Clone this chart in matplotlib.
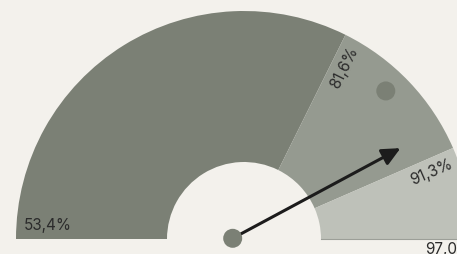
import numpy as np
import matplotlib
matplotlib.use("Agg")
import matplotlib.pyplot as plt
from matplotlib.patches import Wedge, Circle

# Données de la jauge
gauge_min = 53.4
gauge_max = 97.0
thresholds = [53.4, 81.6, 91.3, 97.0]
band_colors = ["#7b8075", "#959a90", "#bec1b9"]
needle_value = 89.7
marker_value = 85.8
labels = ["53,4%", "81,6%", "91,3%", "97,0%"]

# Géométrie (en pixels)
W, H = 457, 255
cx, cy = 244, 15
r_out, r_in = 228, 77
bg = "#f3f1ec"
txt_color = "#2b2b2b"


def angle_of(v):
    """Valeur -> angle en degrés (180 à gauche, 0 à droite)."""
    return 180 - (v - gauge_min) / (gauge_max - gauge_min) * 180


def polar(v, r):
    a = np.radians(angle_of(v))
    return cx + r * np.cos(a), cy + r * np.sin(a)


fig = plt.figure(figsize=(W / 100, H / 100), dpi=100, facecolor=bg)
ax = fig.add_axes([0, 0, 1, 1])
ax.set_xlim(0, W)
ax.set_ylim(0, H)
ax.set_facecolor(bg)
ax.axis("off")

############################### Secteurs
for i in range(3):
    a1 = angle_of(thresholds[i + 1])
    a2 = angle_of(thresholds[i])
    ax.add_patch(Wedge((cx, cy), r_out, a1, a2, width=r_out - r_in,
                       facecolor=band_colors[i], edgecolor="none"))

# fine ligne sous le dernier secteur
ax.plot([cx + r_in, cx + r_out], [cy, cy], color="#9c9f98", lw=0.8)

############################### Étiquettes
font = ["Inter", "DejaVu Sans"]
fs = 11
ax.text(cx - r_out + 8, cy + 7, labels[0], fontsize=fs, color=txt_color,
        family=font, ha="left", va="bottom")
for v, lab in zip(thresholds[1:3], labels[1:3]):
    a = angle_of(v)
    x, y = polar(v + 0.9, 199)
    ax.text(x, y, lab, fontsize=fs, color=txt_color, family=font,
            rotation=a, rotation_mode="anchor", ha="center", va="center")
ax.text(cx + r_out, cy - 2, labels[3], fontsize=fs, color=txt_color,
        family=font, ha="right", va="top")

############################### Marqueur et aiguille
mx, my = polar(marker_value, 205)
ax.add_patch(Circle((mx, my), 9.5, facecolor=band_colors[0], edgecolor="none"))

base = (cx - 11.3, cy + 0.7)
tip = polar(needle_value, 181)
ax.annotate("", xy=tip, xytext=base,
            arrowprops=dict(arrowstyle="-|>,head_length=0.55,head_width=0.26",
                            mutation_scale=20, lw=2.2, color="#1c1c1c",
                            shrinkA=0, shrinkB=0))
ax.add_patch(Circle(base, 9.5, facecolor=band_colors[0], edgecolor="none", zorder=5))

fig.savefig("out.png", dpi=100, facecolor=bg)
